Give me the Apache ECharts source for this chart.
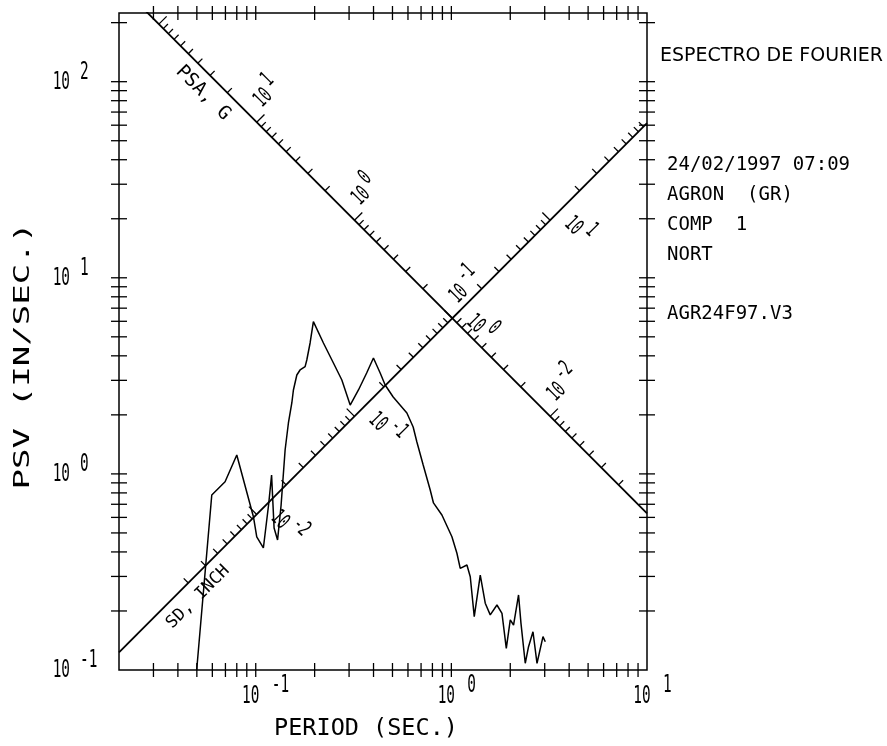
<!DOCTYPE html>
<html>
<head>
<meta charset="utf-8">
<script src="https://cdn.jsdelivr.net/npm/echarts@6/dist/echarts.min.js"></script>
<style>
html, body { margin: 0; padding: 0; background: #fff; }
#chart { width: 887px; height: 746px; }
</style>
</head>
<body>
<div id="chart"></div>
<script>
// Fourier spectrum plotted on a tripartite (PSV / PSA / SD) log-log sheet

// spectrum: period (s) and pseudo-velocity (in/s)
const periods = [0.0499, 0.0596, 0.0697, 0.080, 0.0973, 0.1012, 0.1094, 0.1163, 0.1205, 0.1241,
  0.1293, 0.1348, 0.1413, 0.1469, 0.1529, 0.1558, 0.1622, 0.1685, 0.1788, 0.1824,
  0.1896, 0.1971, 0.2218, 0.2495, 0.2755, 0.3039, 0.335, 0.369, 0.3996, 0.4326,
  0.4587, 0.5041, 0.5924, 0.6378, 0.6664, 0.7177, 0.7796, 0.810, 0.8947, 1.0065,
  1.0676, 1.110, 1.201, 1.249, 1.309, 1.405, 1.490, 1.580, 1.710, 1.814,
  1.909, 2.0, 2.079, 2.205, 2.269, 2.386, 2.480, 2.613, 2.74, 2.94, 3.02];
const psv = [0.1, 0.780, 0.912, 1.248, 0.605, 0.478, 0.419, 0.694, 0.987, 0.530,
  0.460, 0.694, 1.324, 1.818, 2.299, 2.679, 3.194, 3.387, 3.522, 3.809,
  4.651, 5.973, 4.651, 3.678, 3.011, 2.245, 2.679, 3.27, 3.90, 3.27,
  2.84, 2.467, 2.045, 1.735, 1.454, 1.110, 0.828, 0.711, 0.617, 0.478,
  0.394, 0.330, 0.343, 0.299, 0.187, 0.305, 0.219, 0.191, 0.2145, 0.1945,
  0.129, 0.180, 0.1696, 0.2413, 0.173, 0.1082, 0.1315, 0.1567, 0.1082, 0.1479, 0.1394];

const periodRange = [0.02, 10];
const psvRange = [0.1, 224];
const mantissas = [1, 2, 3, 4, 5, 6, 7, 8, 9];
const periodDecades = [-2, -1, 0];
const psvDecades = [-1, 0, 1, 2];
const periodLabelExps = [-1, 0, 1];
const psvLabelExps = [-1, 0, 1, 2];
const psaDecades = [-3, -2, -1, 0, 1, 2];
const psaLabelExps = [1, 0, -1, -2];      // acceleration, g
const psaTickRange = [0.002, 100];
const sdDecades = [-3, -2, -1, 0, 1];
const sdLabelExps = [-2, -1, 0, 1];       // displacement, inch
const sdTickRange = [0.002, 90];
const G_INCH = 386.1;                     // 1 g in in/s^2
const psaAxisSD = 1;                      // PSA scale runs along SD = 1 in
const sdAxisPSA = 0.1;                    // SD scale runs along PSA = 0.1 g
const titleText = 'ESPECTRO DE FOURIER';
const infoLines = ['24/02/1997 07:09', 'AGRON  (GR)', 'COMP  1', 'NORT'];
const fileText = 'AGR24F97.V3';

const TWO_PI = 2 * Math.PI;
const MONO = '"DejaVu Sans Mono", "Liberation Mono", monospace';

const chart = echarts.init(document.getElementById('chart'), null, { renderer: 'canvas' });

const logAxis = (range) => ({
  type: 'log', logBase: 10, min: range[0], max: range[1],
  axisLine: { show: false }, axisTick: { show: false },
  axisLabel: { show: false }, splitLine: { show: false }
});

chart.setOption({
  animation: false,
  backgroundColor: '#fff',
  grid: { left: 119, top: 13, width: 528, height: 657, show: true,
          borderColor: '#000', borderWidth: 1.5, backgroundColor: 'transparent' },
  xAxis: logAxis(periodRange),
  yAxis: logAxis(psvRange),
  series: [
    { type: 'line', data: periods.map((t, i) => [t, psv[i]]), symbol: 'none',
      lineStyle: { color: '#000', width: 1.5 }, clip: true, z: 3 },
    // PSA scale line: constant displacement
    { type: 'line', data: periodRange.map(t => [t, TWO_PI * psaAxisSD / t]), symbol: 'none',
      lineStyle: { color: '#000', width: 1.8 }, clip: true, z: 2 },
    // SD scale line: constant acceleration
    { type: 'line', data: periodRange.map(t => [t, sdAxisPSA * G_INCH * t / TWO_PI]), symbol: 'none',
      lineStyle: { color: '#000', width: 1.8 }, clip: true, z: 2 }
  ]
});

const px = (t, v) => chart.convertToPixel({ gridIndex: 0 }, [t, v]);
const els = [];
const seg = (x1, y1, x2, y2, w) => els.push({
  type: 'line', silent: true, z: 10,
  shape: { x1, y1, x2, y2 }, style: { stroke: '#000', lineWidth: w || 1.3 }
});
const txt = (text, x, y, opt) => els.push(Object.assign({
  type: 'text', x, y, silent: true, z: 10,
  style: Object.assign({ text, fill: '#000', font: '24px ' + MONO, align: 'left', verticalAlign: 'middle' }, opt.style || {})
}, opt.el || {}));

const [gx0, gyB] = px(periodRange[0], psvRange[0]);
const [gx1, gyT] = px(periodRange[1], psvRange[1]);
const near = (a, b) => Math.abs(a - b) < 1.5;

// frame ticks, crossing the border
periodDecades.forEach(d => mantissas.forEach(m => {
  const x = px(m * Math.pow(10, d), 1)[0];
  if (near(x, gx0) || near(x, gx1) || x < gx0 || x > gx1) return;
  seg(x, gyB - 7, x, gyB + 7); seg(x, gyT - 7, x, gyT + 7);
}));
psvDecades.forEach(d => mantissas.forEach(m => {
  const y = px(1, m * Math.pow(10, d))[1];
  if (near(y, gyB) || near(y, gyT) || y > gyB || y < gyT) return;
  seg(gx0 - 8, y, gx0 + 8, y); seg(gx1 - 8, y, gx1 + 8, y);
}));

// power-of-ten tick labels
const powerLabel = (x, y, exp, baseAlign, expDx, expDy) => {
  txt('10', x, y, { style: { align: baseAlign }, el: { scaleX: 0.6 } });
  txt(String(exp), x + expDx, y + expDy, { el: { scaleX: 0.6 } });
};
periodLabelExps.forEach(e => {
  const x = px(Math.pow(10, e), 1)[0];
  powerLabel(x - 5, 697, e, 'center', 21, -11);
});
psvLabelExps.forEach(e => {
  const y = px(1, Math.pow(10, e))[1];
  powerLabel(70, y + 1, e, 'right', 10, -10);
});

// diagonal scales
const inside = (p) => p[0] > gx0 + 2 && p[0] < gx1 - 2 && p[1] > gyT + 2 && p[1] < gyB - 2;
const unitDir = (a, b) => { const dx = b[0] - a[0], dy = b[1] - a[1], l = Math.hypot(dx, dy); return [dx / l, dy / l]; };

const psaPoint = (g) => { const v = Math.sqrt(g * G_INCH * psaAxisSD); return px(TWO_PI * psaAxisSD / v, v); };
const sdPoint = (d) => { const v = Math.sqrt(sdAxisPSA * G_INCH * d); return px(TWO_PI * d / v, v); };

const drawScale = (pointAt, decades, tickRange, labelExps, labelDx, labelDy, rot) => {
  const u = unitDir(pointAt(Math.pow(10, decades[decades.length - 1])), pointAt(Math.pow(10, decades[0])));
  let n = [u[1], -u[0]];
  if (n[1] > 0) n = [-n[0], -n[1]];
  decades.forEach(d => mantissas.forEach(m => {
    const val = m * Math.pow(10, d);
    if (val < tickRange[0] * 0.999 || val > tickRange[1] * 1.001) return;
    const p = pointAt(val);
    if (!inside(p)) return;
    const len = m === 1 ? 11 : 6.5;
    seg(p[0], p[1], p[0] + n[0] * len, p[1] + n[1] * len, 1.3);
  }));
  labelExps.forEach(e => {
    const p = pointAt(Math.pow(10, e));
    els.push({
      type: 'group', x: p[0] + labelDx, y: p[1] + labelDy, rotation: rot, silent: true, z: 10,
      children: [
        { type: 'text', x: -8, y: 2, scaleX: 0.6,
          style: { text: '10', fill: '#000', font: '22px ' + MONO, align: 'center', verticalAlign: 'middle' } },
        { type: 'text', x: 4, y: -8, scaleX: 0.6,
          style: { text: String(e), fill: '#000', font: '22px ' + MONO, align: 'left', verticalAlign: 'middle' } }
      ]
    });
  });
};
drawScale(psaPoint, psaDecades, psaTickRange, psaLabelExps, 11, -31, Math.PI / 4);
drawScale(sdPoint, sdDecades, sdTickRange, sdLabelExps, 30, 10, -Math.PI / 4);

// scale names
txt('PSA, G', 203, 93, { style: { align: 'center', font: '19px ' + MONO }, el: { rotation: -Math.PI / 4 } });
txt('SD, INCH', 198, 597, { style: { align: 'center', font: '17px ' + MONO }, el: { rotation: Math.PI / 4 } });

// axis titles
txt('PERIOD (SEC.)', 366, 729, { style: { align: 'center', font: '23.5px ' + MONO } });
txt('PSV (IN/SEC.)', 23, 356, { style: { align: 'center', font: '22px ' + MONO }, el: { rotation: Math.PI / 2, scaleX: 1.55 } });

// record information
txt(titleText, 660, 56, { style: { font: '19px "DejaVu Sans", sans-serif' } });
infoLines.forEach((s, i) => txt(s, 667, 165 + 30 * i, { style: { font: '19px ' + MONO } }));
txt(fileText, 667, 314, { style: { font: '19px ' + MONO } });

chart.setOption({ graphic: { elements: els } });
</script>
</body>
</html>
